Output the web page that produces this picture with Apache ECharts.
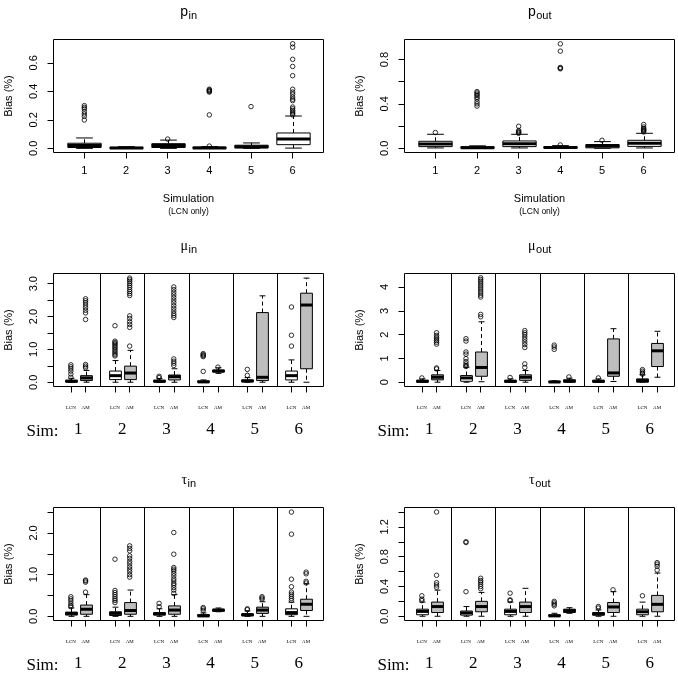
<!DOCTYPE html>
<html>
<head>
<meta charset="utf-8">
<script src="https://cdn.jsdelivr.net/npm/echarts@6/dist/echarts.min.js"></script>
<style>
   html, body { margin: 0; padding: 0; background: #fff; }
   #main { width: 678px; height: 677px; }
</style>
</head>
<body>
<div id="main"></div>
<script>
   // simulations and the two estimators
   var sims = [1, 2, 3, 4, 5, 6];
   var groupNames = ['LCN', 'AM'];

   // box stats: [lower whisker, Q1, median, Q3, upper whisker]
   var pInStats = [[0, 0.006, 0.02, 0.036, 0.073], [0, 0, 0.002, 0.007, 0.012], [0, 0.006, 0.02, 0.033, 0.058],
      [0, 0, 0.003, 0.009, 0.012], [0, 0.003, 0.012, 0.022, 0.038], [0.002, 0.026, 0.066, 0.108, 0.227]];
   var pInOutliers = [[0.199, 0.225, 0.241, 0.258, 0.277, 0.288, 0.3], [], [0.065],
      [0.016, 0.235, 0.395, 0.4, 0.405, 0.41, 0.415], [0.293],
      [0.235, 0.245, 0.255, 0.265, 0.278, 0.29, 0.335, 0.345, 0.36, 0.38, 0.395, 0.415, 0.51, 0.575, 0.625, 0.71, 0.734]];

   var pOutStats = [[0.003, 0.015, 0.039, 0.063, 0.126], [0, 0, 0.005, 0.014, 0.022], [0.003, 0.015, 0.04, 0.066, 0.126],
      [0, 0, 0.006, 0.016, 0.024], [0, 0.004, 0.02, 0.034, 0.06], [0.003, 0.017, 0.045, 0.072, 0.135]];
   var pOutOutliers = [[0.142], [0.38, 0.4, 0.42, 0.445, 0.46, 0.475, 0.487, 0.499, 0.511], [0.135, 0.142, 0.15, 0.16, 0.198],
      [0.03, 0.716, 0.722, 0.728, 0.875, 0.941], [0.072], [0.147, 0.155, 0.162, 0.17, 0.177, 0.192, 0.214]];

   var muInLcnStats = [[0, 0.005, 0.03, 0.06, 0.12], [0, 0.08, 0.2, 0.34, 0.66], [0, 0.005, 0.03, 0.06, 0.11],
      [0, 0, 0.01, 0.04, 0.07], [0, 0.01, 0.04, 0.07, 0.14], [0, 0.07, 0.2, 0.34, 0.68]];
   var muInLcnOutliers = [[0.15, 0.25, 0.34, 0.41, 0.47, 0.53],
      [0.8, 0.84, 0.89, 0.94, 0.99, 1.04, 1.08, 1.13, 1.17, 1.21, 1.25, 1.72], [0.14, 0.18],
      [0.33, 0.78, 0.81, 0.84, 0.87], [0.21, 0.39], [1.1, 1.43, 2.29]];
   var muInAmStats = [[0, 0.05, 0.13, 0.2, 0.36], [0, 0.08, 0.28, 0.49, 0.97], [0, 0.07, 0.17, 0.22, 0.41],
      [0.27, 0.31, 0.34, 0.37, 0.44], [0, 0.05, 0.15, 2.12, 2.63], [0, 0.41, 2.35, 2.71, 3.17]];
   var muInAmOutliers = [[0.44, 0.49, 0.54, 1.91, 2.11, 2.19, 2.27, 2.35, 2.42, 2.48, 2.54],
      [1.1, 1.67, 1.76, 1.84, 1.94, 2.02, 2.64, 2.7, 2.76, 2.82, 2.89, 2.95, 3.01, 3.07, 3.12, 3.17],
      [0.51, 0.58, 0.64, 0.71, 1.97, 2.03, 2.09, 2.17, 2.25, 2.33, 2.42, 2.5, 2.58, 2.66, 2.74, 2.82, 2.9],
      [0.46], [], []];

   var muOutLcnStats = [[0, 0, 0.04, 0.08, 0.14], [0, 0.04, 0.18, 0.28, 0.63], [0, 0, 0.04, 0.08, 0.14],
      [0, 0, 0.01, 0.04, 0.06], [0, 0, 0.04, 0.08, 0.14], [0, 0, 0.07, 0.14, 0.31]];
   var muOutLcnOutliers = [[0.18], [0.66, 0.7, 0.77, 0.87, 0.99, 1.18, 1.27, 1.73, 1.83], [0.2],
      [1.38, 1.48, 1.56], [0.18], [0.34, 0.39, 0.46, 0.53]];
   var muOutAmStats = [[0, 0.1, 0.21, 0.31, 0.49], [0.02, 0.25, 0.62, 1.27, 2.54], [0, 0.08, 0.21, 0.31, 0.49],
      [0, 0, 0.05, 0.1, 0.17], [0.03, 0.25, 0.39, 1.82, 2.25], [0.21, 0.66, 1.32, 1.63, 2.14]];
   var muOutAmOutliers = [[0.56, 0.6, 1.6, 1.68, 1.75, 1.82, 1.89, 1.97, 2.08],
      [2.75, 2.85, 3.58, 3.66, 3.75, 3.83, 3.92, 4.0, 4.08, 4.17, 4.25, 4.32, 4.39],
      [0.62, 0.77, 1.46, 1.58, 1.69, 1.8, 1.9, 2.0, 2.08, 2.17], [0.22], [], []];

   var tauInLcnStats = [[0, 0.03, 0.07, 0.1, 0.2], [0, 0.02, 0.07, 0.11, 0.22], [0, 0.03, 0.06, 0.09, 0.18],
      [0, 0, 0.01, 0.04, 0.08], [0, 0.01, 0.04, 0.06, 0.13], [0, 0.04, 0.09, 0.18, 0.34]];
   var tauInLcnOutliers = [[0.23, 0.26, 0.31, 0.37, 0.42, 0.47], [0.33, 0.38, 0.42, 0.47, 0.52, 0.57, 0.62, 1.37],
      [0.23, 0.31], [0.14, 0.18, 0.21], [0.16, 0.18], [0.38, 0.43, 0.48, 0.53, 0.58, 0.71, 0.89, 1.97, 2.5]];
   var tauInAmStats = [[0, 0.05, 0.17, 0.27, 0.52], [0, 0.05, 0.14, 0.33, 0.63], [0, 0.05, 0.15, 0.25, 0.52],
      [0.11, 0.12, 0.15, 0.17, 0.2], [0, 0.07, 0.15, 0.22, 0.35], [0, 0.14, 0.29, 0.41, 0.78]];
   var tauInAmOutliers = [[0.58, 0.82, 0.85, 0.87],
      [0.94, 1.0, 1.07, 1.13, 1.19, 1.26, 1.32, 1.39, 1.45, 1.57, 1.63, 1.69],
      [0.55, 0.63, 0.69, 0.75, 0.79, 0.85, 0.9, 0.97, 1.03, 1.09, 1.13, 1.17, 1.49, 2.01],
      [], [0.41, 0.44, 0.47], [0.8, 0.84, 1.02, 1.06]];

   var tauOutLcnStats = [[0, 0.02, 0.065, 0.095, 0.19], [0, 0.015, 0.045, 0.07, 0.13], [0, 0.02, 0.065, 0.095, 0.19],
      [0, 0, 0.005, 0.02, 0.04], [0, 0.015, 0.03, 0.05, 0.085], [0, 0.02, 0.06, 0.095, 0.19]];
   var tauOutLcnOutliers = [[0.21, 0.23, 0.275], [0.33, 0.99, 1.0], [0.21, 0.22, 0.31],
      [0.14, 0.16, 0.18, 0.2], [0.11, 0.13], [0.275]];
   var tauOutAmStats = [[0, 0.05, 0.13, 0.19, 0.35], [0, 0.06, 0.13, 0.2, 0.32], [0, 0.05, 0.13, 0.19, 0.375],
      [0.04, 0.05, 0.075, 0.095, 0.115], [0, 0.05, 0.125, 0.185, 0.33], [0, 0.06, 0.16, 0.28, 0.58]];
   var tauOutAmOutliers = [[0.39, 0.42, 0.45, 0.55, 1.4], [0.37, 0.4, 0.43, 0.46, 0.48, 0.51], [], [], [0.355],
      [0.62, 0.67, 0.7, 0.72]];

   // y ticks / labelled ticks
   var pInTicks = [0, 0.2, 0.4, 0.6], pInLabels = [0, 0.2, 0.4, 0.6];
   var pOutTicks = [0, 0.2, 0.4, 0.6, 0.8], pOutLabels = [0, 0.4, 0.8];
   var muInTicks = [0, 0.5, 1, 1.5, 2, 2.5, 3], muInLabels = [0, 1, 2, 3];
   var muOutTicks = [0, 1, 2, 3, 4], muOutLabels = [0, 1, 2, 3, 4];
   var tauInTicks = [0, 0.5, 1, 1.5, 2, 2.5], tauInLabels = [0, 1, 2];
   var tauOutTicks = [0, 0.2, 0.4, 0.6, 0.8, 1, 1.2, 1.4], tauOutLabels = [0, 0.4, 0.8, 1.2];

   var SANS = 'Liberation Sans', SERIF = 'Liberation Serif';

   // box positions in paired panels (R "at")
   var lcnPos = sims.map(function(s){ return 3 * s - 2; });
   var amPos = sims.map(function(s){ return 3 * s - 1; });
   var pairPos = lcnPos.concat(amPos).sort(function(a, b){ return a - b; });
   var groupCenters = sims.map(function(s, i){ return (lcnPos[i] + amPos[i]) / 2; });
   var dividers = sims.slice(1).map(function(s, i){ return (amPos[i] + lcnPos[i + 1]) / 2; });

   var panels = [
      {main: 'p', sub: 'in', mainFont: SANS, col: 0, row: 0, yMin: -0.029, yMax: 0.764, ticks: pInTicks, labels: pInLabels, digits: 1,
         stats: [pInStats], outliers: [pInOutliers]},
      {main: 'p', sub: 'out', mainFont: SANS, col: 1, row: 0, yMin: -0.038, yMax: 0.98, ticks: pOutTicks, labels: pOutLabels, digits: 1,
         stats: [pOutStats], outliers: [pOutOutliers]},
      {main: 'μ', sub: 'in', mainFont: SERIF, col: 0, row: 1, yMin: -0.13, yMax: 3.31, ticks: muInTicks, labels: muInLabels, digits: 1,
         stats: [muInLcnStats, muInAmStats], outliers: [muInLcnOutliers, muInAmOutliers]},
      {main: 'μ', sub: 'out', mainFont: SERIF, col: 1, row: 1, yMin: -0.18, yMax: 4.57, ticks: muOutTicks, labels: muOutLabels, digits: 0,
         stats: [muOutLcnStats, muOutAmStats], outliers: [muOutLcnOutliers, muOutAmOutliers]},
      {main: 'τ', sub: 'in', mainFont: SERIF, col: 0, row: 2, yMin: -0.1, yMax: 2.61, ticks: tauInTicks, labels: tauInLabels, digits: 1,
         stats: [tauInLcnStats, tauInAmStats], outliers: [tauInLcnOutliers, tauInAmOutliers]},
      {main: 'τ', sub: 'out', mainFont: SERIF, col: 1, row: 2, yMin: -0.057, yMax: 1.46, ticks: tauOutTicks, labels: tauOutLabels, digits: 1,
         stats: [tauOutLcnStats, tauOutAmStats], outliers: [tauOutLcnOutliers, tauOutAmOutliers]}
   ];

   var colLeft = [53.5, 404.5], rowTop = [39.5, 273.5, 507.5];
   var GRID_W = 270, GRID_H = 113;

   var measureCtx = document.createElement('canvas').getContext('2d');
   function textWidth(str, size, family){
      measureCtx.font = size + 'px "' + family + '"';
      return measureCtx.measureText(str).width;
   }

   // R style boxplot glyph
   function renderBox(params, api){
      var x = api.value(0);
      var w = api.size([0.8, 0])[0];
      var lo = api.coord([x, api.value(1)]);
      var q1 = api.coord([x, api.value(2)]);
      var med = api.coord([x, api.value(3)]);
      var q3 = api.coord([x, api.value(4)]);
      var hi = api.coord([x, api.value(5)]);
      var cx = Math.round(med[0]) + 0.5;
      var line = {stroke: '#000', lineWidth: 1};
      var dash = {stroke: '#000', lineWidth: 1, lineDash: [4, 3]};
      return {
         type: 'group',
         children: [
            {type: 'line', shape: {x1: cx, y1: q3[1], x2: cx, y2: hi[1]}, style: dash},
            {type: 'line', shape: {x1: cx, y1: q1[1], x2: cx, y2: lo[1]}, style: dash},
            {type: 'line', shape: {x1: cx - w / 4, y1: hi[1], x2: cx + w / 4, y2: hi[1]}, style: line},
            {type: 'line', shape: {x1: cx - w / 4, y1: lo[1], x2: cx + w / 4, y2: lo[1]}, style: line},
            {type: 'rect', shape: {x: cx - w / 2, y: q3[1], width: w, height: q1[1] - q3[1]},
               style: {fill: api.value(6) ? '#bebebe' : '#ffffff', stroke: '#000', lineWidth: 1}},
            {type: 'line', shape: {x1: cx - w / 2, y1: med[1], x2: cx + w / 2, y2: med[1]}, style: {stroke: '#000', lineWidth: 3}}
         ]
      };
   }

   function renderDivider(params, api){
      var x = Math.round(api.coord([api.value(0), 0])[0]) + 0.5;
      var cs = params.coordSys;
      return {type: 'line', shape: {x1: x, y1: cs.y, x2: x, y2: cs.y + cs.height}, style: {stroke: '#000', lineWidth: 1}};
   }

   var option = {animation: false, backgroundColor: '#ffffff', grid: [], xAxis: [], yAxis: [], series: [], graphic: {elements: []}};
   var gfx = option.graphic.elements;

   panels.forEach(function(p){
      var left = colLeft[p.col], top = rowTop[p.row];
      var paired = p.stats.length === 2;
      var gi = option.grid.length;
      option.grid.push({left: left, top: top, width: GRID_W, height: GRID_H, show: true, borderColor: '#000', borderWidth: 1});

      var xi = option.xAxis.length;
      option.xAxis.push({
         gridIndex: gi, type: 'value', min: paired ? -0.18 : 0.26, max: paired ? 18.18 : 6.74,
         axisLine: {show: false, onZero: false}, splitLine: {show: false},
         axisTick: {show: true, length: 6, customValues: paired ? pairPos : sims, lineStyle: {color: '#000', width: 1}},
         axisLabel: paired ? {
            customValues: pairPos, fontSize: 5, fontFamily: SERIF, color: '#000', margin: 19,
            formatter: function(v){ return lcnPos.indexOf(v) >= 0 ? groupNames[0] : groupNames[1]; }
         } : {customValues: sims, fontSize: 11, fontFamily: SANS, color: '#000', margin: 13}
      });
      if(paired){
         option.xAxis.push({
            gridIndex: gi, type: 'value', min: -0.18, max: 18.18, position: 'bottom',
            axisLine: {show: false, onZero: false}, axisTick: {show: false}, splitLine: {show: false},
            axisLabel: {customValues: groupCenters, fontSize: 17, fontFamily: SERIF, color: '#000', margin: 35,
               formatter: function(v){ return String(sims[groupCenters.indexOf(v)]); }}
         });
      }

      var yi = option.yAxis.length;
      option.yAxis.push({
         gridIndex: gi, type: 'value', min: p.yMin, max: p.yMax,
         axisLine: {show: false, onZero: false}, splitLine: {show: false},
         axisTick: {show: true, length: 6, customValues: p.ticks, lineStyle: {color: '#000', width: 1}},
         axisLabel: {customValues: p.labels, rotate: 90, fontSize: 11, fontFamily: SANS, color: '#000', margin: 14,
            formatter: (function(d){ return function(v){ return v.toFixed(d); }; })(p.digits)},
         name: 'Bias (%)', nameLocation: 'middle', nameGap: 39, nameRotate: 90,
         nameTextStyle: {fontSize: 11, fontFamily: SANS, color: '#000'}
      });

      var boxData = [], outData = [];
      p.stats.forEach(function(st, k){
         var pos = paired ? (k === 0 ? lcnPos : amPos) : sims;
         st.forEach(function(row, i){
            boxData.push([pos[i]].concat(row, [k]));
            p.outliers[k][i].forEach(function(v){ outData.push([pos[i], v]); });
         });
      });

      if(paired){
         option.series.push({type: 'custom', xAxisIndex: xi, yAxisIndex: yi, silent: true,
            renderItem: renderDivider, data: dividers.map(function(d){ return [d]; }), encode: {x: 0}});
      }
      option.series.push({type: 'custom', xAxisIndex: xi, yAxisIndex: yi, silent: true, renderItem: renderBox,
         data: boxData, encode: {x: 0, y: [1, 2, 3, 4, 5]}});
      option.series.push({type: 'scatter', xAxisIndex: xi, yAxisIndex: yi, silent: true, symbol: 'circle', symbolSize: 4.5,
         itemStyle: {color: 'transparent', borderColor: '#000', borderWidth: 1}, data: outData});

      // panel title with subscript
      var cx = left + GRID_W / 2, cy = top - 27.5;
      var mw = textWidth(p.main, 14, p.mainFont), sw = textWidth(p.sub, 11, SANS);
      var x0 = cx - (mw + sw) / 2;
      gfx.push({type: 'text', x: x0, y: cy, style: {text: p.main, fontSize: 14, fontFamily: p.mainFont, fill: '#000', align: 'left', verticalAlign: 'middle'}});
      gfx.push({type: 'text', x: x0 + mw + 0.5, y: cy + 3.5, style: {text: p.sub, fontSize: 11, fontFamily: SANS, fill: '#000', align: 'left', verticalAlign: 'middle'}});

      if(paired){
         gfx.push({type: 'text', x: left - 11, y: top + 158.5, style: {text: 'Sim:', fontSize: 17, fontFamily: SERIF, fill: '#000', align: 'center', verticalAlign: 'middle'}});
      }else{
         gfx.push({type: 'text', x: cx, y: top + 159.5, style: {text: 'Simulation', fontSize: 11, fontFamily: SANS, fill: '#000', align: 'center', verticalAlign: 'middle'}});
         gfx.push({type: 'text', x: cx, y: top + 172.5, style: {text: '(LCN only)', fontSize: 8.5, fontFamily: SANS, fill: '#000', align: 'center', verticalAlign: 'middle'}});
      }
   });

   var chart = echarts.init(document.getElementById('main'));
   chart.setOption(option);
</script>
</body>
</html>
